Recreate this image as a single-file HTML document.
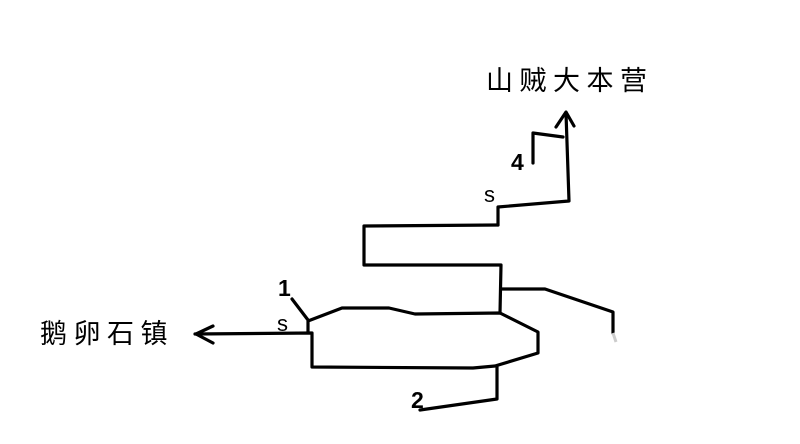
<!DOCTYPE html>
<html><head><meta charset="utf-8"><style>
html,body{margin:0;padding:0;background:#fff;}
svg{display:block}
</style></head><body>
<svg width="800" height="444" viewBox="0 0 800 444" xmlns="http://www.w3.org/2000/svg">
<g fill="none" stroke="#000" stroke-width="3.2" stroke-linejoin="round" stroke-linecap="round">
<polyline points="498,225 498,207 569,201 566,113"/>
<polyline points="556,127 566,112 574,126"/>
<polyline points="533,163 533,133 563,137"/>
<polyline points="498,225 364,226 364,265 501,265 500,313"/>
<polyline points="501,289 545,289 613,312 613,333"/>
<polyline points="308,333 308,321 342,308 389,308 415,314 500,313 538,332 538,353 495,366 473,368 312,367 312,333 195,334"/>
<polyline points="213,326 196,334 213,343"/>
<polyline points="292,299 308,320"/>
<polyline points="497,367 497,399 420,410"/>
</g>
<line x1="613" y1="333" x2="616" y2="342" stroke="#ccc" stroke-width="3"/>
<g font-family="Liberation Sans, sans-serif" font-size="23" font-weight="bold" fill="#000">
<text x="278" y="296">1</text>
<text x="277" y="331" font-size="22" font-weight="normal">s</text>
<text x="484" y="202" font-size="22" font-weight="normal">s</text>
<text x="511" y="170">4</text>
<text x="411" y="408">2</text>
</g>
<g font-family="Liberation Sans, Noto Sans CJK SC, sans-serif" font-size="27" fill="#000">
<text x="40" y="343" letter-spacing="6.5">鹅卵石镇</text>
<text x="486" y="90" letter-spacing="6.5">山贼大本营</text>
</g>
</svg>
</body></html>
